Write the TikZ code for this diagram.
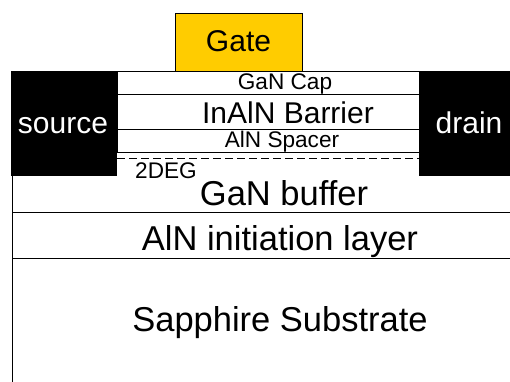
\documentclass[tikz,border=0pt]{standalone}
\usepackage{fontspec}
\setmainfont{Liberation Sans}
\newcommand{\bigtxt}{\fontsize{34.5}{36}\selectfont}
\newcommand{\midtxt}{\fontsize{30}{32}\selectfont}
\newcommand{\smalltxt}{\fontsize{22.6}{24}\selectfont}
\begin{document}
\begin{tikzpicture}[x=1pt,y=-1pt,
  layer/.style={draw=black,line width=1pt,fill=white,inner sep=0pt,outer sep=0pt,anchor=north west},
  contact/.style={fill=black,inner sep=0pt,outer sep=0pt,anchor=north west,text=white},
  gatebox/.style={draw=black,line width=1pt,fill={rgb,255:red,255;green,204;blue,0},inner sep=0pt,outer sep=0pt,anchor=north west},
  lbl/.style={inner sep=0pt,text=black,anchor=base}]
\useasboundingbox (0,0) rectangle (510,381);
\clip (0,0) rectangle (510,381);
% substrate stack
\node[layer,draw=none,minimum width=536pt,minimum height=36pt] (buffer) at (12,176) {};
\node[layer,minimum width=536pt,minimum height=46pt] (init) at (12,212) {};
\node[layer,minimum width=536pt,minimum height=140pt] (sub) at (12,258) {};
\draw[line width=1pt] (buffer.north west) -- (buffer.south west);
% heterostructure layers between the contacts
\node[layer,minimum width=302pt,minimum height=23pt] (cap) at (117,71) {};
\node[layer,minimum width=302pt,minimum height=35pt] (barrier) at (117,94) {};
\node[layer,minimum width=302pt,minimum height=23pt] (spacer) at (117,129) {};
\coordinate (dl) at (117,158);
\coordinate (dr) at (419,158);
\draw[line width=1pt,dash pattern=on 8pt off 4pt] (dl) -- (dr);
% contacts
\node[contact,minimum width=106pt,minimum height=105pt] (source) at (11,71) {};
\node[contact,minimum width=110pt,minimum height=105pt] (drain) at (419,71) {};
\node[gatebox,minimum width=127pt,minimum height=58pt] (gate) at (175,13) {};
% labels, placed by their baselines
\node[lbl] (gatelbl) at (238.5,51) {\midtxt Gate};
\node[lbl,text=white] (srclbl) at (63,133) {\midtxt source};
\node[lbl,text=white] (drnlbl) at (469,133) {\midtxt drain};
\node[lbl] (caplbl) at (285,89) {\smalltxt GaN Cap};
\node[lbl] (barlbl) at (288,123) {\midtxt InAlN Barrier};
\node[lbl] (splbl) at (282,147) {\smalltxt AlN Spacer};
\node[lbl] (deglbl) at (166,178) {\smalltxt 2DEG};
\node[lbl] (buflbl) at (284,205) {\bigtxt GaN buffer};
\node[lbl] (initlbl) at (280,250.5) {\bigtxt AlN initiation layer};
\node[lbl] (sublbl) at (280,331.5) {\bigtxt Sapphire Substrate};
\end{tikzpicture}
\end{document}
